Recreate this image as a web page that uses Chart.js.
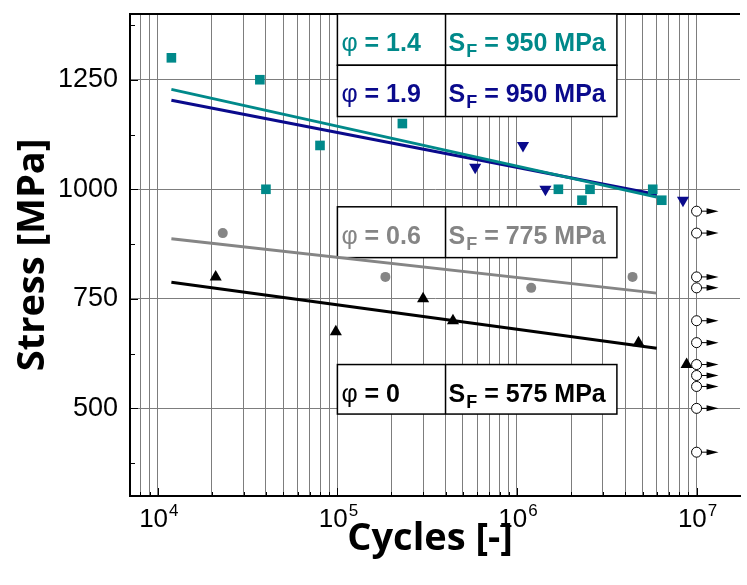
<!DOCTYPE html>
<html>
<head>
<meta charset="utf-8">
<script src="https://cdn.jsdelivr.net/npm/chart.js@4.4.0/dist/chart.umd.min.js"></script>
<style>
html, body { margin: 0; padding: 0; background: #fff; }
</style>
</head>
<body>
<canvas id="chart" width="747" height="585"></canvas>
<script>
// phi = 1.4 (squares)
const n14 = [11900, 37000, 40000, 80000, 230000, 1700000, 2300000, 2550000, 5700000, 6400000]
const s14 = [1300, 1250, 1000, 1100, 1150, 1000, 975, 1000, 1000, 975]
// phi = 1.9 (down triangles)
const n19 = [585000, 1080000, 1440000, 8400000]
const s19 = [1050, 1100, 1000, 975]
// phi = 0.6 (circles)
const n06 = [23000, 185000, 1200000, 4400000]
const s06 = [900, 800, 775, 800]
// phi = 0 (triangles)
const n0 = [21000, 98000, 300000, 440000, 4750000, 8800000]
const s0 = [800, 675, 750, 700, 650, 600]
// run-outs at 1e7 cycles
const nRun = [1e7, 1e7, 1e7, 1e7, 1e7, 1e7, 1e7, 1e7, 1e7, 1e7, 1e7]
const sRun = [950, 900, 800, 775, 700, 650, 600, 575, 550, 500, 400]
// fitted S-N lines (start / end)
const fitN = [11900, 6000000]
const fit14 = [1228, 982]
const fit19 = [1203, 988]
const fit06 = [887, 763]
const fit0 = [788, 637]

// axes
const xGrid = [8000, 9000, 10000, 20000, 30000, 40000, 50000, 60000, 70000, 80000, 90000,
    100000, 200000, 300000, 400000, 500000, 600000, 700000, 800000, 900000,
    1000000, 2000000, 3000000, 4000000, 5000000, 6000000, 7000000, 8000000, 9000000, 10000000]
const xDecades = [10000, 100000, 1000000, 10000000]
const xExp = ['4', '5', '6', '7']
const yLabels = [500, 750, 1000, 1250]
const yMinor = [375, 625, 875, 1125, 1375]

// text boxes (in data units)
const boxN = [100000, 400000, 3600000]
const boxS = [[1400, 1283], [1283, 1166], [960, 844], [600, 487]]
const boxPhi = ['1.4', '1.9', '0.6', '0']
const boxSF = ['950', '950', '775', '575']

const teal = '#00898a'
const navy = '#0a0a8c'
const gray = '#858585'
const gridColor = '#7d7d7d'
const boxColors = [teal, navy, gray, '#000']

function pts(xs, ys) {
    return xs.map(function(v, i) { return { x: v, y: ys[i] } })
}

const decor = {
    id: 'decor',
    beforeDatasetsDraw(chart) {
        let ctx = chart.ctx
        let a = chart.chartArea
        let x = chart.scales.x
        let y = chart.scales.y
        ctx.save()
        ctx.strokeStyle = '#000'
        ctx.lineWidth = 1
        // inward ticks, bottom
        xGrid.forEach(function(v) {
            let px = Math.round(x.getPixelForValue(v)) + 0.5
            let len = xDecades.includes(v) ? 8 : 4
            ctx.beginPath()
            ctx.moveTo(px, a.bottom)
            ctx.lineTo(px, a.bottom - len)
            ctx.stroke()
        })
        // inward ticks, left
        yLabels.concat(yMinor).forEach(function(v) {
            let py = Math.round(y.getPixelForValue(v)) + 0.5
            let len = yLabels.includes(v) ? 8 : 5
            ctx.beginPath()
            ctx.moveTo(a.left, py)
            ctx.lineTo(a.left + len, py)
            ctx.stroke()
        })
        // top frame
        ctx.lineWidth = 2
        ctx.beginPath()
        ctx.moveTo(a.left, a.top)
        ctx.lineTo(a.right, a.top)
        ctx.stroke()

        // boxes
        let l = x.getPixelForValue(boxN[0])
        let m = x.getPixelForValue(boxN[1])
        let r = x.getPixelForValue(boxN[2])
        boxS.forEach(function(row, i) {
            let t = y.getPixelForValue(row[0])
            let b = y.getPixelForValue(row[1])
            ctx.fillStyle = '#fff'
            ctx.fillRect(l, t, r - l, b - t)
            ctx.strokeStyle = '#000'
            ctx.lineWidth = 1.5
            ctx.strokeRect(l, t, r - l, b - t)
            ctx.beginPath()
            ctx.moveTo(m, t)
            ctx.lineTo(m, b)
            ctx.stroke()

            let base = t + 37
            ctx.fillStyle = boxColors[i]
            ctx.textBaseline = 'alphabetic'
            ctx.textAlign = 'left'
            ctx.font = '25px "Liberation Sans"'
            ctx.fillText('φ', l + 4, base)
            let w = ctx.measureText('φ').width
            ctx.font = 'bold 25px "Liberation Sans"'
            ctx.fillText(' = ' + boxPhi[i], l + 4 + w, base)

            let sx = m + 3
            ctx.fillText('S', sx, base)
            sx += ctx.measureText('S').width + 1
            ctx.font = 'bold 18px "Liberation Sans"'
            ctx.fillText('F', sx, base + 6)
            sx += ctx.measureText('F').width
            ctx.font = 'bold 25px "Liberation Sans"'
            ctx.fillText(' = ' + boxSF[i] + ' MPa', sx, base)
        })
        ctx.restore()
    },
    afterDatasetsDraw(chart) {
        // run-out arrows
        let ctx = chart.ctx
        let meta = chart.getDatasetMeta(0)
        ctx.save()
        ctx.fillStyle = '#000'
        ctx.strokeStyle = '#000'
        ctx.lineWidth = 1
        meta.data.forEach(function(p) {
            let x0 = p.x + 5
            ctx.beginPath()
            ctx.moveTo(x0, p.y)
            ctx.lineTo(x0 + 8, p.y)
            ctx.stroke()
            ctx.beginPath()
            ctx.moveTo(x0 + 5, p.y - 3)
            ctx.lineTo(x0 + 17, p.y)
            ctx.lineTo(x0 + 5, p.y + 3)
            ctx.closePath()
            ctx.fill()
        })
        ctx.restore()
    },
    afterDraw(chart) {
        // x tick labels 10^n
        let ctx = chart.ctx
        let a = chart.chartArea
        let x = chart.scales.x
        ctx.save()
        ctx.fillStyle = '#000'
        ctx.textBaseline = 'alphabetic'
        ctx.textAlign = 'left'
        xDecades.forEach(function(v, i) {
            let px = x.getPixelForValue(v)
            ctx.font = '26px "Liberation Sans"'
            let w1 = ctx.measureText('10').width
            ctx.font = '17px "Liberation Sans"'
            let w2 = ctx.measureText(xExp[i]).width
            let x0 = px + 1 - (w1 + w2 + 1) / 2
            ctx.font = '26px "Liberation Sans"'
            ctx.fillText('10', x0, a.bottom + 31)
            ctx.font = '17px "Liberation Sans"'
            ctx.fillText(xExp[i], x0 + w1 + 1, a.bottom + 20)
        })
        ctx.restore()
    }
}

new Chart(document.getElementById('chart'), {
    type: 'scatter',
    data: {
        datasets: [
            { label: 'run-out', data: pts(nRun, sRun), pointStyle: 'circle', pointRadius: 5,
              backgroundColor: '#fff', borderColor: '#000', borderWidth: 1 },
            { label: 'φ = 1.4', data: pts(n14, s14), pointStyle: 'rect', pointRadius: 6.8,
              backgroundColor: teal, borderColor: teal, borderWidth: 0 },
            { label: 'φ = 1.9', data: pts(n19, s19), pointStyle: 'triangle', rotation: 180, pointRadius: 7,
              backgroundColor: navy, borderColor: navy, borderWidth: 0 },
            { label: 'φ = 0.6', data: pts(n06, s06), pointStyle: 'circle', pointRadius: 5,
              backgroundColor: gray, borderColor: gray, borderWidth: 0 },
            { label: 'φ = 0', data: pts(n0, s0), pointStyle: 'triangle', pointRadius: 7,
              backgroundColor: '#000', borderColor: '#000', borderWidth: 0 },
            { label: 'fit 1.4', data: pts(fitN, fit14), showLine: true, pointRadius: 0, borderColor: teal, borderWidth: 3 },
            { label: 'fit 1.9', data: pts(fitN, fit19), showLine: true, pointRadius: 0, borderColor: navy, borderWidth: 3 },
            { label: 'fit 0.6', data: pts(fitN, fit06), showLine: true, pointRadius: 0, borderColor: gray, borderWidth: 3 },
            { label: 'fit 0', data: pts(fitN, fit0), showLine: true, pointRadius: 0, borderColor: '#000', borderWidth: 3 }
        ]
    },
    options: {
        responsive: false,
        animation: false,
        layout: { padding: { top: 14, left: 0, right: 0, bottom: 0 } },
        plugins: { legend: { display: false }, tooltip: { enabled: false } },
        scales: {
            x: {
                type: 'logarithmic',
                position: 'bottom',
                min: 7000,
                max: 17450000,
                afterBuildTicks: function(s) { s.ticks = xGrid.map(function(v) { return { value: v } }) },
                ticks: { display: false },
                grid: { color: gridColor, lineWidth: 1, drawTicks: false },
                border: { display: true, color: '#000', width: 2 },
                title: { display: true, text: 'Cycles [-] ', color: '#000',
                         font: { family: 'Open Sans', weight: 'bold', size: 38 }, padding: { top: 0, bottom: 23 } },
                afterFit: function(s) { s.height = 89; s.paddingLeft = 0; s.paddingRight = 0 }
            },
            y: {
                type: 'linear',
                min: 300,
                max: 1400,
                afterBuildTicks: function(s) { s.ticks = yLabels.map(function(v) { return { value: v } }) },
                ticks: { color: '#000', padding: 12, font: { family: 'Liberation Sans', size: 27 },
                         callback: function(v) { return String(v) } },
                grid: { color: gridColor, lineWidth: 1, drawTicks: false },
                border: { display: true, color: '#000', width: 2 },
                title: { display: true, text: 'Stress [MPa]', color: '#000',
                         font: { family: 'Open Sans', weight: 'bold', size: 38 }, padding: { top: 10, bottom: 0 } },
                afterFit: function(s) { s.width = 130; s.paddingTop = 0; s.paddingBottom = 0 }
            }
        }
    },
    plugins: [decor]
})
</script>
</body>
</html>
